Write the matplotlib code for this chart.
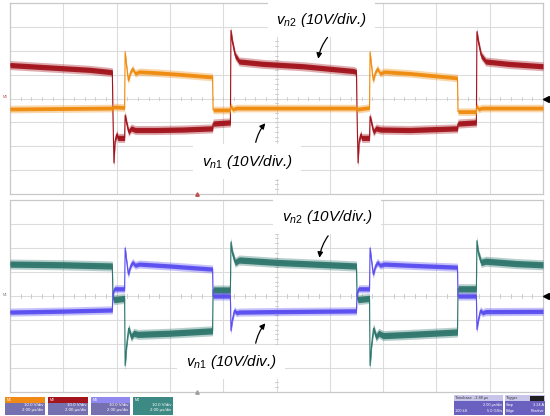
import matplotlib
matplotlib.use("Agg")
import matplotlib.pyplot as plt
import numpy as np
from matplotlib.lines import Line2D
from matplotlib.patches import Rectangle, FancyArrowPatch

plt.rcParams['font.family'] = ['Liberation Sans', 'DejaVu Sans']
plt.rcParams['mathtext.fontset'] = 'custom'
plt.rcParams['mathtext.it'] = 'Liberation Sans:italic'
plt.rcParams['mathtext.rm'] = 'Liberation Sans'

# ---------------- data (time in us, voltage in V) ----------------
top_vn2_t = [0, 1.5, 3.0, 3.84, 3.86, 3.90, 3.94, 4.00, 4.05, 4.30, 4.32, 4.38, 4.45, 4.55, 4.7, 5.5, 6.5, 7.60,
             7.62, 8.27, 8.29, 8.34, 8.45, 8.6, 9.5, 11, 12.9, 13.0, 13.02, 13.06, 13.10, 13.16, 13.2, 13.49,
             13.51, 13.57, 13.64, 13.74, 13.9, 15, 16.79, 16.81, 17.50, 17.52, 17.57, 17.68, 17.85, 18.7, 20]
top_vn2_v = [14.0, 13.0, 12.0, 11.0, -5, -27, -18, -15, -16.5, -16.5, -7, -10.5, -14, -12.5, -13.2, -13.2, -13, -12.5,
             -10.5, -10, 28.5, 24, 18, 15.5, 14.5, 13.5, 11.5, 11, -5, -27, -18, -15, -16.5, -16.5,
             -7.5, -10.5, -14, -12.5, -13, -13.2, -12.5, -10.5, -10, 28, 24, 18, 15.5, 14.5, 13.5]

top_vn1_t = [0, 2, 3.84, 3.86, 3.9, 4.30, 4.32, 4.37, 4.44, 4.52, 4.6, 4.7, 4.85, 5.5, 6.5, 7.60, 7.62, 8.27,
             8.29, 8.35, 8.5, 10, 12, 13.00, 13.02, 13.49, 13.51, 13.56, 13.63, 13.71, 13.79, 13.89, 14.05, 15,
             16.79, 16.81, 17.50, 17.52, 17.58, 17.7, 20]
top_vn1_v = [-4.4, -4.2, -4.0, -4.5, -3.5, -3.8, 19.5, 14, 7.5, 11, 12.5, 10.5, 11.2, 10.8, 10, 9, -4.8, -4.8,
             -3, -4.5, -4, -4, -4, -4, -4.5, -3.8, 19.5, 14, 7.5, 11, 12.5, 10.5, 11.2, 10.5,
             8.6, -5.5, -5.5, -3, -4.5, -4, -4]

bot_vn2_t = [0, 2, 3.84, 3.86, 3.9, 4.30, 4.32, 4.38, 4.45, 4.55, 4.65, 4.8, 6, 7.60, 7.62, 8.27, 8.29, 8.34,
             8.45, 8.6, 10, 12, 13.00, 13.02, 13.06, 13.49, 13.51, 13.57, 13.64, 13.74, 13.84, 14, 15, 16.79,
             16.81, 17.50, 17.52, 17.57, 17.68, 17.85, 19, 20]
bot_vn2_v = [13.3, 13, 12.5, 0, -1.5, -1, -29, -20, -13.5, -17, -15.5, -16, -15.5, -14.5, 2.5, 2.5, 22.5, 18,
             14, 15, 14, 13, 12.5, 0, -1.5, -1, -29, -20, -13.5, -17, -15.5, -16.5, -16, -15,
             3, 3, 23, 18, 14, 14.5, 13.5, 13]

bot_vn1_t = [0, 2, 3.84, 3.86, 3.92, 4.30, 4.32, 4.37, 4.44, 4.52, 4.6, 4.7, 4.85, 6, 7.60, 7.62, 8.27, 8.29,
             8.34, 8.42, 8.5, 8.6, 10, 13.00, 13.02, 13.08, 13.49, 13.51, 13.56, 13.63, 13.71, 13.79, 13.89,
             14.05, 15, 16.79, 16.81, 17.50, 17.52, 17.57, 17.65, 17.73, 17.85, 20]
bot_vn1_v = [-6.7, -6.3, -5.8, 1, 3, 3, 20, 15, 9, 12.5, 14, 12.8, 13.3, 12.5, 11.2, 0, 0, -14.5,
             -10, -6, -7, -6.7, -6.5, -6.2, 1, 3, 3, 20, 15, 9, 12.5, 14, 12.8,
             13.3, 12.8, 12, 0, 0, -14, -10, -6, -7, -6.5, -6.4]

labels_vn2 = r'$v_{n2}$ (10V/div.)'
labels_vn1 = r'$v_{n1}$ (10V/div.)'

C_RED = '#a3141c'
C_ORANGE = '#ef8c10'
C_TEAL = '#2f776d'
C_BLUE = '#5b4ef0'

W, H = 550, 416
fig = plt.figure(figsize=(5.5, 4.16), dpi=100)
fig.patch.set_facecolor('white')


def px_axes(x0, y0, x1, y1):
    return fig.add_axes([x0 / W, 1 - y1 / H, (x1 - x0) / W, (y1 - y0) / H])


def setup(ax):
    ax.set_xlim(0, 20)
    ax.set_ylim(-40, 40)
    ax.set_xticks([]); ax.set_yticks([])
    for s in ax.spines.values():
        s.set_color('#c8c8c8'); s.set_linewidth(0.9)
    for i in range(1, 10):
        ax.axvline(i * 2, color='#dcdcdc', lw=0.8, zorder=0)
    for j in range(-3, 4):
        ax.axhline(j * 10, color='#dcdcdc', lw=0.8, zorder=0)
    # small tick marks on centre lines
    for k in range(0, 51):
        ax.plot([k * 0.4, k * 0.4], [-0.8, 0.8], color='#c8c8c8', lw=0.6, zorder=0)
    for k in range(-20, 21):
        ax.plot([9.93, 10.07], [k * 2, k * 2], color='#c8c8c8', lw=0.6, zorder=0)


def trace(ax, t, v, color, hw, z):
    t = np.asarray(t, float); v = np.asarray(v, float)
    ax.fill_between(t, v - hw - 0.8, v + hw + 0.8, color=color, lw=0, alpha=0.35, zorder=z)
    ax.fill_between(t, v - hw, v + hw, color=color, lw=0, alpha=0.95, zorder=z)
    ax.plot(t, v, color=color, lw=0.8, zorder=z + 0.1)


def label(ax, x, y, text, ax_from, ax_to, rad):
    ax.text(x, y, text, fontsize=11, style='italic', ha='left', va='center', zorder=10,
            bbox=dict(facecolor='white', edgecolor='none', pad=6))
    arr = FancyArrowPatch(ax_from, ax_to, arrowstyle='-|>', mutation_scale=8,
                          connectionstyle=f'arc3,rad={rad}', color='black', lw=0.9, zorder=11)
    ax.add_patch(arr)


# ---------------- top panel ----------------
ax1 = px_axes(10, 3, 543, 194)
setup(ax1)
trace(ax1, top_vn2_t, top_vn2_v, C_RED, 1.1, 3)
trace(ax1, top_vn1_t, top_vn1_v, C_ORANGE, 0.8, 4)
label(ax1, 10.0, 33.0, labels_vn2, (11.98, 26.5), (11.55, 15.5), 0.15)
label(ax1, 7.2, -26.5, labels_vn1, (9.2, -19.5), (9.65, -9.5), -0.15)
ax1.plot([7.0], [-40], marker='^', color='#c0504d', ms=2.5, clip_on=False, zorder=6)

# ---------------- bottom panel ----------------
ax2 = px_axes(10, 200, 543, 392)
setup(ax2)
trace(ax2, bot_vn2_t, bot_vn2_v, C_TEAL, 1.3, 3)
trace(ax2, bot_vn1_t, bot_vn1_v, C_BLUE, 0.9, 4)
label(ax2, 10.2, 33.0, labels_vn2, (12.0, 26.0), (11.6, 14.8), 0.15)
label(ax2, 6.6, -27.5, labels_vn1, (9.2, -20.8), (9.65, -10.5), -0.15)
ax2.plot([7.0], [-40], marker='^', color='#a0a0a0', ms=2.5, clip_on=False, zorder=6)

# ground markers
for yy in (99, 296):
    fig.add_artist(Line2D([546 / W], [1 - yy / H], marker='<', color='black', ms=5,
                          transform=fig.transFigure))
fig.text(3 / W, 1 - 97 / H, 'M0', fontsize=2.5, color='#c0504d', va='center')
fig.text(3 / W, 1 - 295 / H, 'M1', fontsize=2.5, color='#808080', va='center')

# ---------------- info boxes ----------------
def box(x0, x1, y0, y1, head, body, htxt, lines):
    fig.add_artist(Rectangle((x0 / W, 1 - y1 / H), (x1 - x0) / W, (y1 - y0) / H,
                             transform=fig.transFigure, facecolor=body, edgecolor='none'))
    fig.add_artist(Rectangle((x0 / W, 1 - (y0 + 5.5) / H), (x1 - x0) / W, 5.5 / H,
                             transform=fig.transFigure, facecolor=head, edgecolor='none'))
    fig.text((x0 + 1.5) / W, 1 - (y0 + 2.8) / H, htxt, fontsize=2.6, color='white', va='center')
    for i, ln in enumerate(lines):
        fig.text((x1 - 1.5) / W, 1 - (y0 + 8.5 + i * 5) / H, ln, fontsize=3.2, color='white',
                 ha='right', va='center')


box(5, 45, 397, 415, '#f08a14', '#7570b0', 'M1', ['10.0 V/div', '2.00 µs/div'])
box(48, 88, 397, 415, '#a3141c', '#7570b0', 'M2', ['10.0 V/div', '2.00 µs/div'])
box(91, 130, 397, 415, '#9188f0', '#7570b0', 'M3', ['10.0 V/div', '2.00 µs/div'])
box(133, 173, 397, 415, '#3d8a84', '#3d8a84', 'M4', ['10.0 V/div', '2.00 µs/div'])

# timebase / trigger boxes
fig.add_artist(Rectangle((454 / W, 1 - 415 / H), 49 / W, 20 / H, transform=fig.transFigure,
                         facecolor='#6a60c0', edgecolor='none'))
fig.add_artist(Rectangle((454 / W, 1 - 401 / H), 49 / W, 6 / H, transform=fig.transFigure,
                         facecolor='#c9c5ea', edgecolor='none'))
fig.text(455 / W, 1 - 398 / H, 'Timebase  -3.88 µs', fontsize=2.8, color='#333333', va='center')
fig.text(502 / W, 1 - 405 / H, '2.00 µs/div', fontsize=2.8, color='white', va='center', ha='right')
fig.text(455 / W, 1 - 411 / H, '100 kS', fontsize=2.8, color='white', va='center')
fig.text(502 / W, 1 - 411 / H, '5.0 GS/s', fontsize=2.8, color='white', va='center', ha='right')

fig.add_artist(Rectangle((505 / W, 1 - 415 / H), 40 / W, 20 / H, transform=fig.transFigure,
                         facecolor='#6a60c0', edgecolor='none'))
fig.add_artist(Rectangle((505 / W, 1 - 401 / H), 40 / W, 6 / H, transform=fig.transFigure,
                         facecolor='#c9c5ea', edgecolor='none'))
fig.add_artist(Rectangle((530 / W, 1 - 400.5 / H), 14 / W, 5 / H, transform=fig.transFigure,
                         facecolor='#202020', edgecolor='none'))
fig.text(506 / W, 1 - 398 / H, 'Trigger', fontsize=2.8, color='#333333', va='center')
fig.text(506 / W, 1 - 405 / H, 'Stop', fontsize=2.8, color='white', va='center')
fig.text(544 / W, 1 - 405 / H, '3.24 A', fontsize=2.8, color='white', va='center', ha='right')
fig.text(506 / W, 1 - 411 / H, 'Edge', fontsize=2.8, color='white', va='center')
fig.text(544 / W, 1 - 411 / H, 'Positive', fontsize=2.8, color='white', va='center', ha='right')

fig.savefig('out.png', dpi=100, facecolor='white')
